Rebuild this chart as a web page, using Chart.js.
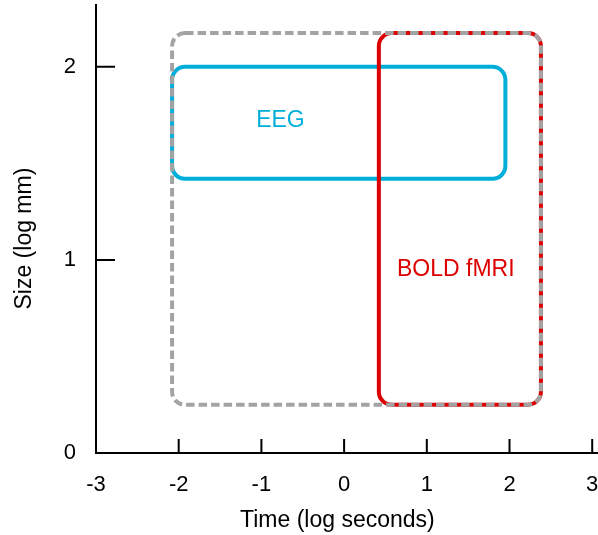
<!DOCTYPE html>
<html lang="en">
<head>
  <meta charset="UTF-8">
  <title>EEG vs BOLD fMRI</title>
  <script src="https://cdn.jsdelivr.net/npm/chart.js"></script>
  <style>
    body {
      margin: 0;
      background: white;
    }
    #wrap {
      width: 598px;
      height: 535px;
    }
  </style>
</head>
<body>
  <div id="wrap"><canvas id="rangeChart"></canvas></div>

  <script type="text/javascript">
    // tick labels
    const xTicks = [-3, -2, -1, 0, 1, 2, 3];
    const yTicks = [0, 1, 2];

    // boxes: EEG, BOLD fMRI, combined (dashed)
    const boxNames = ['EEG', 'BOLD fMRI', ''];
    const boxTimeFrom = [-2.08, 0.42, -2.08];
    const boxTimeTo = [1.95, 2.38, 2.38];
    const boxSizeFrom = [1.42, 0.25, 0.25];
    const boxSizeTo = [2.0, 2.175, 2.175];
    const labelTime = [-0.77, 1.35, null];
    const labelSize = [1.72, 0.95, null];

    const boxColors = ['#00afd9', '#dc0000', '#a3a3a3'];
    const boxDash = [[], [], [8.5, 4]];
    const font = "'Liberation Sans', Arial, sans-serif";

    const boxPlugin = {
      id: 'boxes',
      afterDatasetsDraw(chart) {
        const ctx = chart.ctx;
        const xs = chart.scales.x, ys = chart.scales.y;
        ctx.save();
        for (let i = 0; i < boxNames.length; i++) {
          const x0 = xs.getPixelForValue(boxTimeFrom[i]);
          const x1 = xs.getPixelForValue(boxTimeTo[i]);
          const y0 = ys.getPixelForValue(boxSizeTo[i]);
          const y1 = ys.getPixelForValue(boxSizeFrom[i]);
          ctx.beginPath();
          ctx.roundRect(x0, y0, x1 - x0, y1 - y0, 13);
          ctx.lineWidth = 4;
          ctx.strokeStyle = boxColors[i];
          ctx.setLineDash(boxDash[i]);
          ctx.stroke();
          if (labelTime[i] !== null) {
            ctx.setLineDash([]);
            ctx.fillStyle = boxColors[i];
            ctx.font = '23px ' + font;
            ctx.textAlign = 'center';
            ctx.textBaseline = 'middle';
            ctx.fillText(boxNames[i], xs.getPixelForValue(labelTime[i]), ys.getPixelForValue(labelSize[i]));
          }
        }
        // inward tick marks
        ctx.setLineDash([]);
        ctx.strokeStyle = '#000';
        ctx.lineWidth = 2;
        ctx.beginPath();
        xTicks.forEach(v => {
          const px = xs.getPixelForValue(v);
          ctx.moveTo(px, ys.bottom);
          ctx.lineTo(px, ys.bottom - 14);
        });
        yTicks.forEach(v => {
          const py = ys.getPixelForValue(v);
          ctx.moveTo(xs.left, py);
          ctx.lineTo(xs.left + 19, py);
        });
        ctx.stroke();
        ctx.restore();
      }
    };

    new Chart(document.getElementById('rangeChart'), {
      type: 'scatter',
      data: { datasets: [{ data: [], showLine: false }] },
      plugins: [boxPlugin],
      options: {
        responsive: true,
        maintainAspectRatio: false,
        animation: false,
        layout: { autoPadding: false, padding: { top: 5, right: 0, left: 0, bottom: 0 } },
        plugins: { legend: { display: false }, tooltip: { enabled: false } },
        scales: {
          x: {
            type: 'linear',
            min: -3,
            max: 3.07,
            afterBuildTicks: s => { s.ticks = xTicks.map(v => ({ value: v })); },
            afterFit: s => { s.height = 82; s.paddingLeft = 0; s.paddingRight = 0; },
            grid: { display: false, drawTicks: false },
            border: { display: true, color: '#000', width: 2 },
            ticks: { color: '#000', padding: 19, maxRotation: 0, font: { family: font, size: 22 } },
            title: { display: true, text: 'Time (log seconds)   ', color: '#000', padding: { top: 0, bottom: 1 }, font: { family: font, size: 23 } }
          },
          y: {
            type: 'linear',
            min: 0,
            max: 2.32,
            afterBuildTicks: s => { s.ticks = yTicks.map(v => ({ value: v })); },
            afterFit: s => { s.width = 96; s.paddingTop = 0; s.paddingBottom = 0; },
            grid: { display: false, drawTicks: false },
            border: { display: true, color: '#000', width: 2 },
            ticks: { color: '#000', padding: 20, font: { family: font, size: 22 } },
            title: { display: true, text: 'Size (log mm)   ', color: '#000', padding: { top: 11, bottom: 0 }, font: { family: font, size: 23 } }
          }
        }
      }
    });
  </script>
</body>
</html>
